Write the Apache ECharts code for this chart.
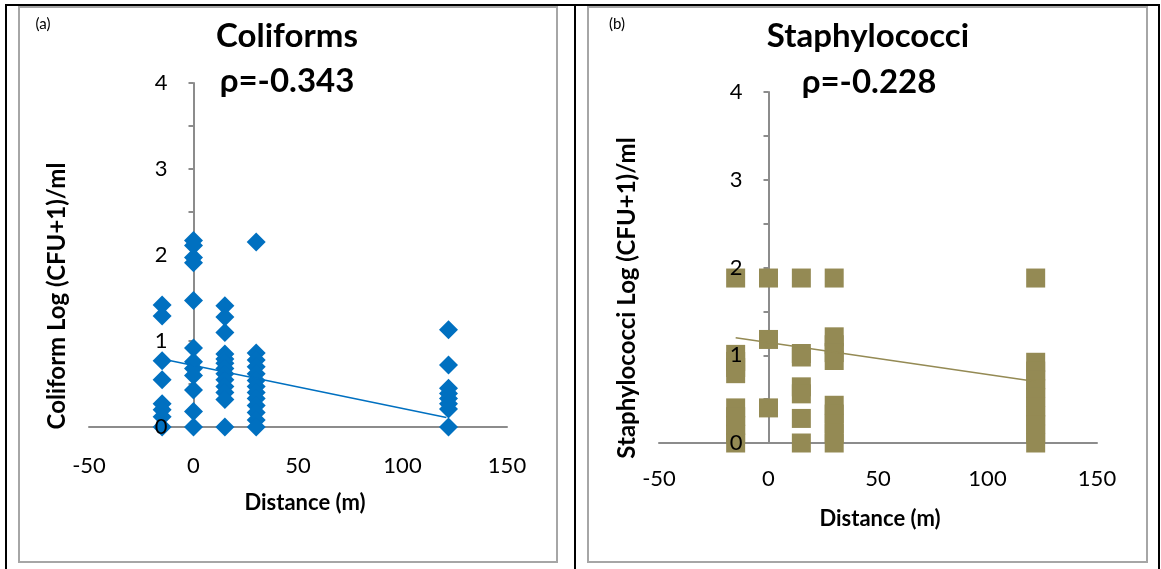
<!DOCTYPE html>
<html>
<head>
<meta charset="utf-8">
<script src="https://cdn.jsdelivr.net/npm/echarts@6/dist/echarts.min.js"></script>
<style>
  html, body { margin: 0; padding: 0; background: #fff; }
  #chart { width: 1161px; height: 569px; }
</style>
</head>
<body>
<div id="chart"></div>
<script>
// sampling distances (m)
var distances = [-15, 0, 15, 30, 122];

// coliform Log(CFU+1)/ml, one list per distance
var coliLog = [
  [1.42, 1.29, 0.77, 0.55, 0.27, 0.2, 0.12, 0],
  [2.17, 2.11, 1.97, 1.91, 1.47, 0.92, 0.76, 0.68, 0.6, 0.43, 0.18, 0],
  [1.41, 1.28, 1.1, 0.85, 0.79, 0.74, 0.68, 0.62, 0.55, 0.47, 0.4, 0.32, 0],
  [2.15, 0.86, 0.78, 0.7, 0.62, 0.54, 0.47, 0.4, 0.33, 0.25, 0.17, 0.08, 0],
  [1.13, 0.72, 0.45, 0.39, 0.33, 0.27, 0.21, 0]
];

// staphylococci Log(CFU+1)/ml, one list per distance
var staphLog = [
  [1.88, 1.01, 0.93, 0.86, 0.79, 0.4, 0.3, 0.2, 0.1, 0],
  [1.88, 1.18, 0.4],
  [1.88, 1.02, 0.98, 0.64, 0.56, 0.28, 0],
  [1.88, 1.21, 1.12, 1.03, 0.94, 0.43, 0.33, 0.22, 0.11, 0],
  [1.88, 0.92, 0.82, 0.72, 0.62, 0.52, 0.41, 0.31, 0.21, 0.1, 0]
];

// linear trend lines (end points)
var trendDistA = [-15, 121];
var trendColi = [0.79, 0.11];
var trendDistB = [-15, 122];
var trendStaph = [1.2, 0.7];

var titles = ['Coliforms', 'Staphylococci'];
var rhos = ['ρ=-0.343', 'ρ=-0.228'];
var yNames = ['Coliform Log (CFU+1)/ml', 'Staphylococci Log (CFU+1)/ml'];

function toPoints(xs, lists) {
  var pts = [];
  xs.forEach(function (x, i) {
    lists[i].forEach(function (v) { pts.push([x, v]); });
  });
  return pts;
}
function pairUp(xs, ys) {
  return xs.map(function (x, i) { return [x, ys[i]]; });
}

var FONT = 'Lato, "Open Sans", sans-serif';
var axisGray = '#8c8c8c';

// grid boxes: x from -50 to 150, y from 0 to 4
var grids = [
  { left: 89, top: 83, width: 418, height: 344, outerBoundsMode: 'none' },
  { left: 659, top: 92, width: 438, height: 351, outerBoundsMode: 'none' }
];

function xAxisFor(g, margin) {
  return {
    type: 'value', gridIndex: g, min: -50, max: 150, interval: 50,
    axisLine: { show: true, onZero: true, lineStyle: { color: axisGray, width: 2 } },
    axisTick: { show: false },
    splitLine: { show: false },
    axisLabel: { color: '#000', fontSize: 22, fontFamily: FONT, margin: margin }
  };
}
function yLineAxis(g) {
  return {
    type: 'value', gridIndex: g, position: 'left', min: 0, max: 4, interval: 0.5, z: 0,
    axisLine: { show: true, onZero: true, lineStyle: { color: axisGray, width: 2 } },
    axisTick: { show: true, length: 5, lineStyle: { color: axisGray, width: 2 } },
    splitLine: { show: false },
    axisLabel: { show: false }
  };
}
// labels only, moved in to x = 0 and drawn above the markers
function yLabelAxis(g) {
  return {
    type: 'value', gridIndex: g, position: 'left', min: 0, max: 4, interval: 0.5, z: 10,
    offset: -grids[g].width / 4,
    axisLine: { show: false, onZero: false },
    axisTick: { show: false },
    splitLine: { show: false },
    axisLabel: {
      color: '#000', fontSize: 22, fontFamily: FONT, margin: 26,
      formatter: function (v) { return Number.isInteger(v) ? String(v) : ''; }
    }
  };
}

function txt(x, y, text, size, bold, extra) {
  var o = {
    type: 'text', x: x, y: y, z: 100,
    style: {
      text: text, fill: '#000',
      font: (bold ? 'bold ' : '') + size + 'px ' + FONT,
      align: 'center', verticalAlign: 'middle'
    }
  };
  if (extra) Object.assign(o, extra);
  return o;
}

var chart = echarts.init(document.getElementById('chart'));
chart.setOption({
  animation: false,
  backgroundColor: '#fff',
  grid: grids,
  xAxis: [xAxisFor(0, 28), xAxisFor(1, 25)],
  yAxis: [yLineAxis(0), yLabelAxis(0), yLineAxis(1), yLabelAxis(1)],
  series: [
    {
      type: 'line', xAxisIndex: 0, yAxisIndex: 0, symbol: 'none',
      lineStyle: { color: '#0070C0', width: 1.5 },
      data: pairUp(trendDistA, trendColi)
    },
    {
      type: 'scatter', xAxisIndex: 0, yAxisIndex: 0, symbol: 'diamond', symbolSize: 19,
      itemStyle: { color: '#0070C0', opacity: 1 },
      data: toPoints(distances, coliLog)
    },
    {
      type: 'line', xAxisIndex: 1, yAxisIndex: 2, symbol: 'none',
      lineStyle: { color: '#948A54', width: 1.5 },
      data: pairUp(trendDistB, trendStaph)
    },
    {
      type: 'scatter', xAxisIndex: 1, yAxisIndex: 2, symbol: 'rect', symbolSize: 19,
      itemStyle: { color: '#948A54', opacity: 1 },
      data: toPoints(distances, staphLog)
    }
  ],
  graphic: [
    // table borders
    { type: 'line', shape: { x1: 5, y1: 5, x2: 1160, y2: 5 }, style: { stroke: '#000', lineWidth: 2 } },
    { type: 'line', shape: { x1: 6, y1: 5, x2: 6, y2: 569 }, style: { stroke: '#000', lineWidth: 2 } },
    { type: 'line', shape: { x1: 575, y1: 5, x2: 575, y2: 569 }, style: { stroke: '#000', lineWidth: 2 } },
    { type: 'line', shape: { x1: 1159, y1: 5, x2: 1159, y2: 569 }, style: { stroke: '#000', lineWidth: 2 } },
    // chart frames
    { type: 'rect', shape: { x: 19, y: 7, width: 538, height: 555 }, style: { fill: 'none', stroke: '#a6a6a6', lineWidth: 2 } },
    { type: 'rect', shape: { x: 588, y: 7, width: 559, height: 555 }, style: { fill: 'none', stroke: '#a6a6a6', lineWidth: 2 } },
    // panel letters
    txt(43, 24, '(a)', 15, false),
    txt(617, 24, '(b)', 15, false),
    // titles
    txt(287, 36, titles[0], 33, true),
    txt(287, 81, rhos[0], 33, true),
    txt(868, 36, titles[1], 33, true),
    txt(869, 82, rhos[1], 33, true),
    // axis names
    txt(305, 503, 'Distance (m)', 22, true),
    txt(880, 519, 'Distance (m)', 22, true),
    txt(57, 296, yNames[0], 24, true, { rotation: Math.PI / 2 }),
    txt(627, 298, yNames[1], 24, true, { rotation: Math.PI / 2 })
  ]
});
</script>
</body>
</html>
